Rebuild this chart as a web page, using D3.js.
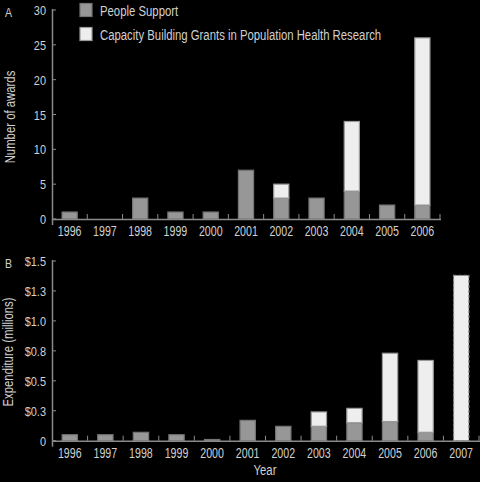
<!DOCTYPE html>
<html>
<head>
<meta charset="utf-8">
<script src="https://cdn.jsdelivr.net/npm/d3@7"></script>
<style>
  body { margin: 0; background: #000; }
  svg text { font-family: "Liberation Sans", Arial, sans-serif; fill: #d0d0d0; }
</style>
</head>
<body>
<div id="chart"></div>
<script>
// Panel A: number of awards
const yearsA = ["1996", "1997", "1998", "1999", "2000", "2001", "2002", "2003", "2004", "2005", "2006"];
const awardsPeople = [1, 0, 3, 1, 1, 7, 3, 3, 4, 2, 2];
const awardsCapacity = [0, 0, 0, 0, 0, 0, 2, 0, 10, 0, 24];
const ticksA = [0, 5, 10, 15, 20, 25, 30];

// Panel B: expenditure ($ millions)
const yearsB = ["1996", "1997", "1998", "1999", "2000", "2001", "2002", "2003", "2004", "2005", "2006", "2007"];
const spendPeople = [0.05, 0.05, 0.07, 0.05, 0.01, 0.17, 0.12, 0.12, 0.15, 0.16, 0.07, 0];
const spendCapacity = [0, 0, 0, 0, 0, 0, 0, 0.12, 0.12, 0.57, 0.6, 0];
const spendProjected = [0, 0, 0, 0, 0, 0, 0, 0, 0, 0, 0, 1.38];
const ticksB = [0, 0.25, 0.5, 0.75, 1.0, 1.25, 1.5];

const legendLabels = ["People Support", "Capacity Building Grants in Population Health Research"];

const W = 480, H = 482;
const svg = d3.select("#chart").append("svg").attr("width", W).attr("height", H);

const styles = {
  people: {fill: "#979797", stroke: "#747474", dash: null},
  capacity: {fill: "#eeeeee", stroke: "#9a9a9a", dash: null},
  projected: {fill: "#eeeeee", stroke: "#8a8a8a", dash: "3,2"}
};

function panel(opt) {
  const g = svg.append("g");
  const x = d3.scaleBand().domain(opt.years).range([52, opt.right]).padding(0);
  const y = d3.scaleLinear().domain([0, opt.max]).range([opt.bottom, opt.top]);

  const series = d3.stack().keys(opt.keys)(opt.rows);
  const bw = x.bandwidth() * 0.43;

  series.forEach(s => {
    const st = styles[s.key];
    g.append("g").selectAll("rect").data(s.filter(d => d[1] - d[0] > 0)).join("rect")
      .attr("x", d => x(d.data.year) + (x.bandwidth() - bw) / 2)
      .attr("width", bw)
      .attr("y", d => y(d[1]))
      .attr("height", d => y(d[0]) - y(d[1]))
      .attr("fill", st.fill).attr("stroke", st.stroke).attr("stroke-width", 1.2)
      .attr("stroke-dasharray", st.dash);
  });

  // x axis line, ticks between categories
  g.append("line").attr("x1", 52).attr("x2", opt.right + 1)
    .attr("y1", opt.bottom + 0.5).attr("y2", opt.bottom + 0.5)
    .attr("stroke", "#8a8a8a").attr("stroke-width", 1.5);
  const bounds = opt.years.slice(1).map(d => x(d)).concat([opt.right]);
  g.selectAll("line.xt").data(bounds).join("line").attr("class", "xt")
    .attr("x1", d => d).attr("x2", d => d)
    .attr("y1", opt.bottom).attr("y2", opt.bottom - 5)
    .attr("stroke", "#8a8a8a").attr("stroke-width", 1);
  g.selectAll("text.xl").data(opt.years).join("text").attr("class", "xl squeeze")
    .attr("x", d => x(d) + x.bandwidth() / 2).attr("y", opt.bottom + 17)
    .attr("text-anchor", "middle").style("font-size", "14px").text(d => d);

  // y axis
  g.append("line").attr("x1", 52.5).attr("x2", 52.5)
    .attr("y1", opt.top - 1).attr("y2", opt.bottom + 6)
    .attr("stroke", "#8a8a8a").attr("stroke-width", 1.5);
  g.selectAll("line.yt").data(opt.ticks).join("line").attr("class", "yt")
    .attr("x1", 52).attr("x2", 56)
    .attr("y1", d => y(d)).attr("y2", d => y(d))
    .attr("stroke", "#8a8a8a").attr("stroke-width", 1);
  g.selectAll("text.yl").data(opt.ticks).join("text").attr("class", "yl")
    .attr("x", 46).attr("y", d => y(d) + 5)
    .attr("text-anchor", "end").style("font-size", "13.5px").text(opt.fmt);

  g.append("text").attr("transform", `translate(${opt.titleX},${opt.titleY}) rotate(-90)`)
    .attr("text-anchor", "middle").style("font-size", "14px").text(opt.title);
  g.append("text").attr("x", 5).attr("y", opt.top + 7).style("font-size", "13px").text(opt.letter);
}

panel({
  years: yearsA, right: 440, top: 10, bottom: 219, max: 30, ticks: ticksA,
  keys: ["people", "capacity"],
  rows: yearsA.map((yr, i) => ({year: yr, people: awardsPeople[i], capacity: awardsCapacity[i]})),
  fmt: d => d, title: "Number of awards", titleX: 15, titleY: 117, letter: "A"
});

panel({
  years: yearsB, right: 479, top: 261, bottom: 440.7, max: 1.5, ticks: ticksB,
  keys: ["people", "capacity", "projected"],
  rows: yearsB.map((yr, i) => ({year: yr, people: spendPeople[i], capacity: spendCapacity[i], projected: spendProjected[i]})),
  fmt: d => d === 0 ? "0" : "$" + d3.format(".1f")(d), title: "Expenditure (millions)", titleX: 13, titleY: 352, letter: "B"
});

svg.append("text").attr("x", 265).attr("y", 475).attr("text-anchor", "middle")
  .style("font-size", "14px").text("Year");

// legend
const leg = svg.append("g");
legendLabels.forEach((t, i) => {
  const st = styles[i === 0 ? "people" : "capacity"];
  leg.append("rect").attr("x", 80).attr("y", 3.5 + i * 24).attr("width", 12).attr("height", 13)
    .attr("fill", st.fill).attr("stroke", st.stroke).attr("stroke-width", 1.2);
  leg.append("text").attr("x", 100).attr("y", 16 + i * 24).style("font-size", "14px").text(t);
});

// the original uses a narrow face: squeeze every label horizontally
svg.selectAll("text").each(function() {
  const k = this.classList.contains("squeeze") ? 0.76 : 0.81;
  const w = this.getComputedTextLength();
  d3.select(this).attr("textLength", w * k).attr("lengthAdjust", "spacingAndGlyphs");
});
</script>
</body>
</html>
